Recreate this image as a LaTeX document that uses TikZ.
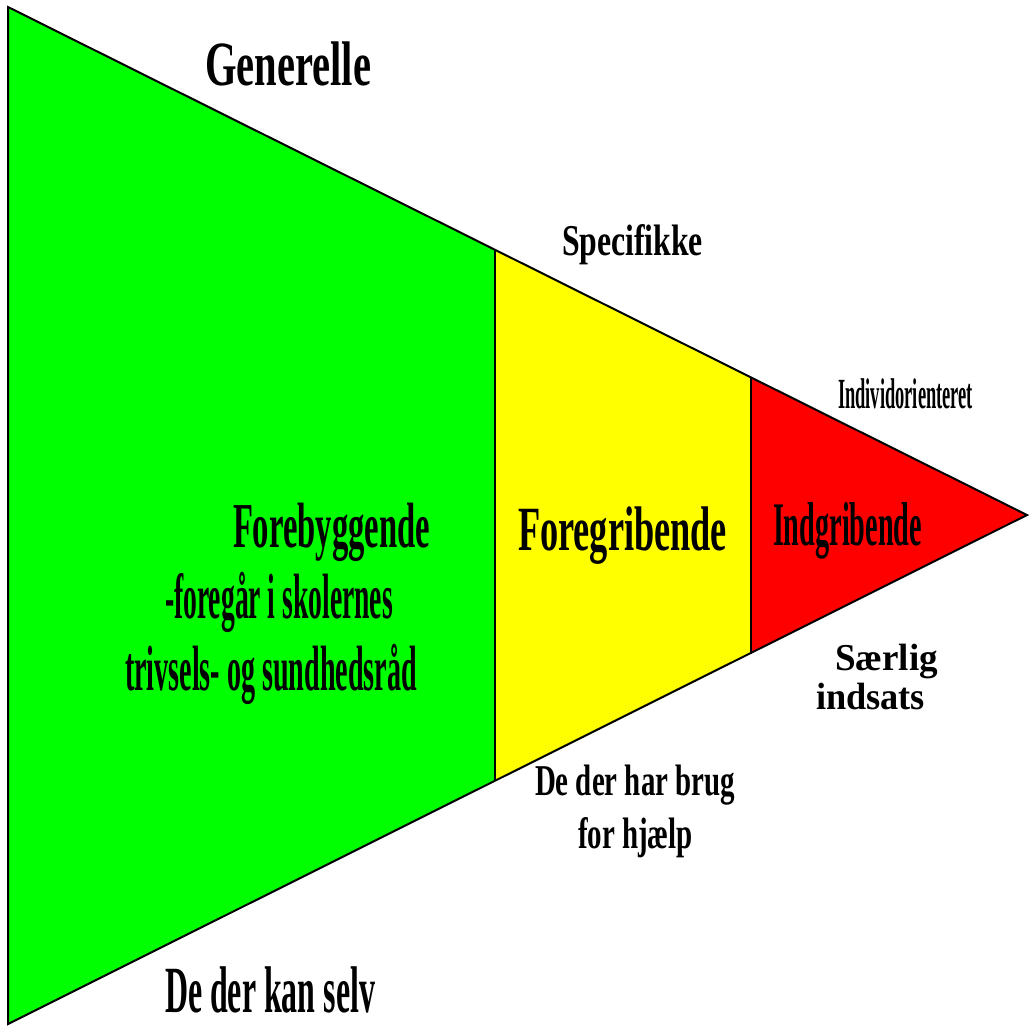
\documentclass[tikz,border=0pt]{standalone}
\usepackage{fontspec}
\usepackage{graphicx}
\setmainfont{Liberation Serif}
\definecolor{zgreen}{RGB}{0,255,0}
\definecolor{zyellow}{RGB}{255,255,0}
\definecolor{zred}{RGB}{255,0,0}
\newcommand\fitt[3]{\resizebox{#1pt}{\height}{\fontsize{#2}{#2}\selectfont\bfseries #3}}
\begin{document}
\begin{tikzpicture}[x=1pt,y=-1pt,
  zone/.style={draw=black,line width=2pt,line join=miter},
  lbl/.style={anchor=base west,inner sep=0pt,outer sep=0pt,text=black}]
\useasboundingbox (0,0) rectangle (1033,1033);
\coordinate (tl) at (8,7);
\coordinate (bl) at (8,1024);
\coordinate (ap) at (1027,515);
\coordinate (t1) at (495,249.8);
\coordinate (b1) at (495,781.2);
\coordinate (t2) at (751,377.4);
\coordinate (b2) at (751,653.6);
\fill[zgreen] (tl) -- (t1) -- (b1) -- (bl) -- cycle;
\fill[zyellow] (t1) -- (t2) -- (b2) -- (b1) -- cycle;
\fill[zred] (t2) -- (ap) -- (b2) -- cycle;
\draw[zone] (tl) -- (ap) -- (bl) -- cycle;
\draw[zone] (t1) -- (b1);
\draw[zone] (t2) -- (b2);
% labels
\node[lbl] (gen) at (205,85) {\fitt{166}{63}{Generelle}};
\node[lbl] (spec) at (562,255) {\fitt{141}{44}{Specifikke}};
\node[lbl] (ind) at (838,408) {\fitt{135}{43}{Individorienteret}};
\node[lbl] (fg) at (518,550) {\fitt{209}{63}{Foregribende}};
\node[lbl] (ig) at (773,545) {\fitt{149}{62}{Indgribende}};
\node[lbl] (fb1) at (233,547) {\fitt{197}{64}{Forebyggende}};
\node[lbl] (fb2) at (165,618) {\fitt{228}{64}{-foregår i skolernes}};
\node[lbl] (fb3) at (125,690) {\fitt{292}{64}{trivsels- og sundhedsråd}};
\node[lbl] (sa1) at (835,670) {\fitt{103}{38}{Særlig}};
\node[lbl] (sa2) at (816,709) {\fitt{109}{38}{indsats}};
\node[lbl] (dh1) at (535,795) {\fitt{200}{44}{De der har brug}};
\node[lbl] (dh2) at (578,848) {\fitt{115}{44}{for hjælp}};
\node[lbl] (dk) at (165,1012) {\fitt{210}{66}{De der kan selv}};
\end{tikzpicture}
\end{document}
